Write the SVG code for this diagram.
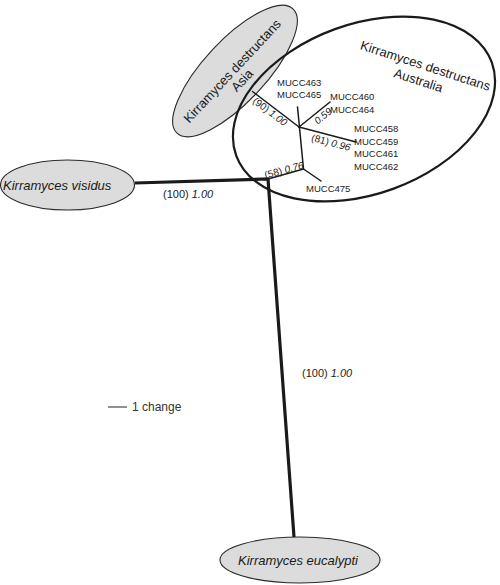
<svg xmlns="http://www.w3.org/2000/svg" width="500" height="585" viewBox="0 0 500 585">
<style>
.bg{fill:#ffffff}
.clade{fill:#dcdcdc;stroke:#2a2a2a;stroke-width:1.1}
.group{fill:none;stroke:#1a1a1a;stroke-width:2.2}
.thick{fill:none;stroke:#1a1a1a;stroke-width:3.2;stroke-linecap:butt;stroke-linejoin:miter}
.thin{fill:none;stroke:#1a1a1a;stroke-width:1.5;stroke-linecap:round}
.sp{font-family:"Liberation Sans",Arial,sans-serif;font-size:13px;fill:#1a1a1a}
.spi{font-family:"Liberation Sans",Arial,sans-serif;font-size:13px;font-style:italic;fill:#1a1a1a}
.iso{font-family:"Liberation Sans",Arial,sans-serif;font-size:9.5px;fill:#222}
.sup{font-family:"Liberation Sans",Arial,sans-serif;font-size:10px;fill:#222}
.supl{font-family:"Liberation Sans",Arial,sans-serif;font-size:11px;fill:#222}
.it{font-style:italic}
</style>
<rect class="bg" x="0" y="0" width="500" height="585"/>

<g id="asia">
  <ellipse class="clade" cx="235" cy="71" rx="85" ry="31" transform="rotate(-47 235 71)"/>
  <g transform="translate(235 71) rotate(-47)">
    <text class="sp" x="-2" y="2.5" text-anchor="middle">Kirramyces destructans</text>
    <text class="sp" x="-2" y="16" text-anchor="middle">Asia</text>
  </g>
</g>

<g id="australia">
  <ellipse class="group" cx="364" cy="109" rx="136" ry="85" transform="rotate(-20 364 109)"/>
  <g transform="translate(424 70) rotate(18)">
    <text class="sp" x="0" y="0" text-anchor="middle">Kirramyces destructans</text>
    <text class="sp" x="-2" y="16" text-anchor="middle">Australia</text>
  </g>
</g>

<g id="visidus">
  <ellipse class="clade" cx="67.5" cy="185" rx="67" ry="25"/>
  <text class="spi" x="3" y="190">Kirramyces visidus</text>
</g>

<g id="eucalypti">
  <ellipse class="clade" cx="300" cy="560" rx="80" ry="23"/>
  <text class="spi" x="238" y="565">Kirramyces eucalypti</text>
</g>

<g id="connectors">
  <polyline class="thick" points="135,183 268,179 294,537"/>
  <line class="thin" x1="268" y1="179" x2="303.5" y2="169"/>
  <line class="thin" x1="303.5" y1="169" x2="321" y2="181"/>
  <line class="thin" x1="303.5" y1="169" x2="297.5" y2="107"/>
  <line class="thin" x1="299" y1="127" x2="252.5" y2="91.5"/>
  <line class="thin" x1="299" y1="127" x2="330" y2="102"/>
  <line class="thin" x1="299" y1="127" x2="356" y2="142"/>
</g>

<g id="support-labels">
  <text class="supl" x="163" y="198">(100) <tspan class="it">1.00</tspan></text>
  <text class="supl" x="302" y="377">(100) <tspan class="it">1.00</tspan></text>
  <g transform="translate(270 111.5) rotate(37)"><text class="sup" x="0" y="3.5" text-anchor="middle">(90) <tspan class="it">1.00</tspan></text></g>
  <g transform="translate(323 116) rotate(-39)"><text class="sup it" x="0" y="3.5" text-anchor="middle">0.59</text></g>
  <g transform="translate(331 142.5) rotate(15)"><text class="sup" x="0" y="3.5" text-anchor="middle">(81) <tspan class="it">0.96</tspan></text></g>
  <g transform="translate(284 170) rotate(-15)"><text class="sup" x="0" y="3.5" text-anchor="middle">(58) <tspan class="it">0.76</tspan></text></g>
</g>

<g id="mucc463"><text class="iso" x="277" y="86">MUCC463</text></g>
<g id="mucc465"><text class="iso" x="277" y="97.5">MUCC465</text></g>
<g id="mucc460"><text class="iso" x="330" y="99.5">MUCC460</text></g>
<g id="mucc464"><text class="iso" x="330" y="113">MUCC464</text></g>
<g id="mucc458"><text class="iso" x="354" y="132">MUCC458</text></g>
<g id="mucc459"><text class="iso" x="354" y="144.7">MUCC459</text></g>
<g id="mucc461"><text class="iso" x="354" y="157.3">MUCC461</text></g>
<g id="mucc462"><text class="iso" x="354" y="170">MUCC462</text></g>
<g id="mucc475"><text class="iso" x="306" y="192">MUCC475</text></g>

<g id="legend">
  <line x1="108" y1="407" x2="127" y2="407" stroke="#555" stroke-width="1.3"/>
  <text x="132" y="411" font-family="Liberation Sans, Arial, sans-serif" font-size="12" fill="#333">1 change</text>
</g>
</svg>
